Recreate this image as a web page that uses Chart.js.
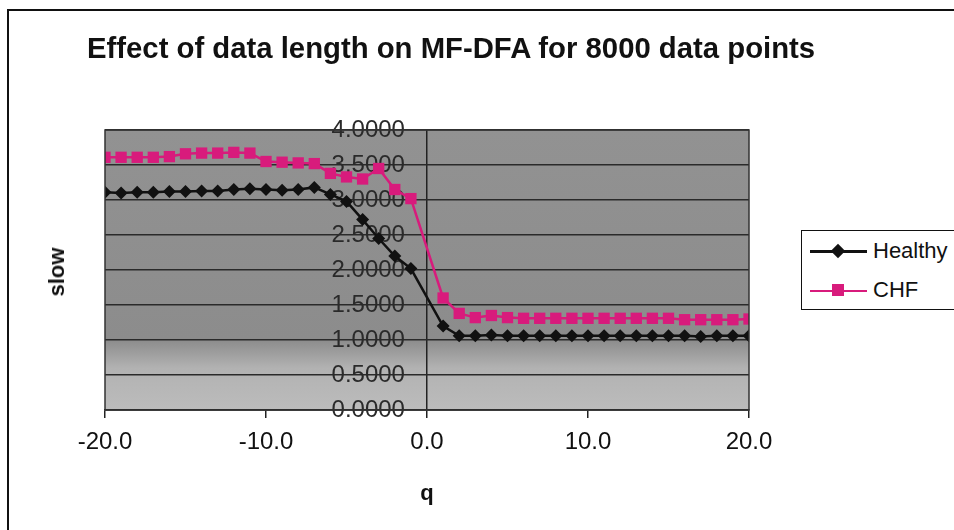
<!DOCTYPE html>
<html>
<head>
<meta charset="utf-8">
<script src="https://cdn.jsdelivr.net/npm/chart.js@4/dist/chart.umd.min.js"></script>
<style>
  html, body { margin: 0; padding: 0; background: #fff; }
  #wrap { position: relative; width: 954px; height: 530px; overflow: hidden; font-family: "Liberation Sans", Arial, sans-serif; }
  #frame { position: absolute; left: 7px; top: 9px; width: 1000px; height: 600px; border-top: 2px solid #111; border-left: 2px solid #111; }
  #title { position: absolute; left: 87px; top: 31px; font-size: 29.3px; font-weight: bold; color: #111; white-space: nowrap; }
  #ytitle { position: absolute; left: 57px; top: 272px; font-size: 22px; font-weight: bold; color: #111; transform: translate(-50%, -50%) rotate(-90deg); }
  #xtitle { position: absolute; left: 427px; top: 493px; font-size: 22px; font-weight: bold; color: #111; transform: translate(-50%, -50%); }
  #legend { position: absolute; left: 801px; top: 230px; width: 170px; height: 78px; border: 1.5px solid #111; background: #fff; }
  .row { position: absolute; left: 8px; height: 24px; display: flex; align-items: center; font-size: 22px; color: #111; }
  .sample { position: relative; width: 57px; height: 24px; margin-right: 6px; }
  .sample .ln { position: absolute; left: 0; right: 0; top: 11px; height: 2.5px; }
  .sample .mk { position: absolute; left: 22px; top: 6px; width: 12px; height: 12px; }
  #canvasBox { position: absolute; left: 0; top: 0; width: 954px; height: 530px; }
</style>
</head>
<body>
<div id="wrap">
  <div id="frame"></div>
  <div id="canvasBox"><canvas id="chart"></canvas></div>
  <div id="title">Effect of data length on MF-DFA for 8000 data points</div>
  <div id="ytitle">slow</div>
  <div id="xtitle">q</div>
  <div id="legend">
    <div class="row" style="top:8px;"><div class="sample"><div class="ln" style="background:#111;"></div><div class="mk" style="background:#111;transform:rotate(45deg) scale(0.85);"></div></div>Healthy</div>
    <div class="row" style="top:47px;"><div class="sample"><div class="ln" style="background:#d81b7c;height:1.5px;top:12px;"></div><div class="mk" style="background:#d81b7c;"></div></div>CHF</div>
  </div>
</div>
<script>
// q values (q = 0 is not part of the series)
const qValues = [-20, -19, -18, -17, -16, -15, -14, -13, -12, -11, -10, -9, -8, -7, -6, -5, -4, -3, -2, -1,
  1, 2, 3, 4, 5, 6, 7, 8, 9, 10, 11, 12, 13, 14, 15, 16, 17, 18, 19, 20];
const healthy = [3.11, 3.10, 3.11, 3.11, 3.12, 3.12, 3.13, 3.13, 3.15, 3.16, 3.15, 3.14, 3.15, 3.18, 3.08, 2.98, 2.72, 2.45, 2.20, 2.02,
  1.20, 1.06, 1.06, 1.07, 1.06, 1.06, 1.06, 1.06, 1.06, 1.06, 1.06, 1.06, 1.06, 1.06, 1.06, 1.06, 1.05, 1.06, 1.06, 1.06];
const chf = [3.61, 3.61, 3.61, 3.61, 3.62, 3.66, 3.67, 3.67, 3.68, 3.67, 3.55, 3.54, 3.53, 3.52, 3.38, 3.33, 3.30, 3.45, 3.15, 3.02,
  1.60, 1.38, 1.32, 1.35, 1.32, 1.31, 1.31, 1.31, 1.31, 1.31, 1.31, 1.31, 1.31, 1.31, 1.31, 1.29, 1.29, 1.29, 1.29, 1.30];
const xTicks = [-20, -10, 0, 10, 20];
const yTicks = [0, 0.5, 1, 1.5, 2, 2.5, 3, 3.5, 4];

const toXY = (ys) => qValues.map((q, i) => ({ x: q, y: ys[i] }));

// gray plot area + dark frame, like the old Excel chart
const plotBg = {
  id: 'plotBg',
  beforeDraw(chart) {
    const { ctx, chartArea: a } = chart;
    ctx.save();
    const g = ctx.createLinearGradient(0, a.top, 0, a.bottom);
    g.addColorStop(0, '#929292');
    g.addColorStop(0.75, '#8c8c8c');
    g.addColorStop(0.85, '#b2b2b2');
    g.addColorStop(1, '#bcbcbc');
    ctx.fillStyle = g;
    ctx.fillRect(a.left, a.top, a.right - a.left, a.bottom - a.top);
    ctx.restore();
  },
  afterDatasetsDraw(chart) {
    const { ctx, chartArea: a } = chart;
    ctx.save();
    ctx.strokeStyle = '#333';
    ctx.lineWidth = 1.5;
    ctx.strokeRect(a.left, a.top, a.right - a.left, a.bottom - a.top);
    ctx.restore();
  }
};

new Chart(document.getElementById('chart'), {
  type: 'line',
  data: {
    datasets: [
      {
        label: 'Healthy', data: toXY(healthy),
        borderColor: '#111', backgroundColor: '#111', borderWidth: 2.5,
        pointStyle: 'rectRot', pointRadius: 6.5, pointBorderWidth: 0, tension: 0
      },
      {
        label: 'CHF', data: toXY(chf),
        borderColor: '#d81b7c', backgroundColor: '#d81b7c', borderWidth: 2.5,
        pointStyle: 'rect', pointRadius: 8, pointBorderWidth: 0, tension: 0
      }
    ]
  },
  options: {
    responsive: true, maintainAspectRatio: false, animation: false,
    layout: { padding: { left: 105, right: 205, top: 130, bottom: 76 } },
    plugins: { legend: { display: false }, tooltip: { enabled: false }, title: { display: false } },
    scales: {
      x: {
        type: 'linear', min: -20, max: 20,
        afterBuildTicks: (s) => { s.ticks = xTicks.map((v) => ({ value: v })); },
        afterFit: (s) => { s.height = 44; },
        border: { display: true, color: '#222', width: 1.5 },
        // only the q = 0 line crosses the plot; ticks below the axis for all
        grid: {
          drawOnChartArea: true, drawTicks: true, tickLength: 8, lineWidth: 1.5, tickColor: '#222',
          color: (c) => (c.tick && c.tick.value === 0 ? '#222' : 'rgba(0,0,0,0)')
        },
        ticks: { color: '#111', padding: 10, maxRotation: 0, font: { family: 'Liberation Sans', size: 24 }, callback: (v) => Number(v).toFixed(1) }
      },
      y: {
        // labels sit a little left of the q = 0 line
        position: { x: -1.37 }, min: 0, max: 4,
        afterBuildTicks: (s) => { s.ticks = yTicks.map((v) => ({ value: v })); },
        border: { display: false },
        grid: { color: '#2a2a2a', lineWidth: 1.5, drawTicks: false },
        ticks: { color: '#2a2a2a', padding: 0, font: { family: 'Liberation Sans', size: 24 }, callback: (v) => Number(v).toFixed(4) }
      }
    }
  },
  plugins: [plotBg]
});
</script>
</body>
</html>
